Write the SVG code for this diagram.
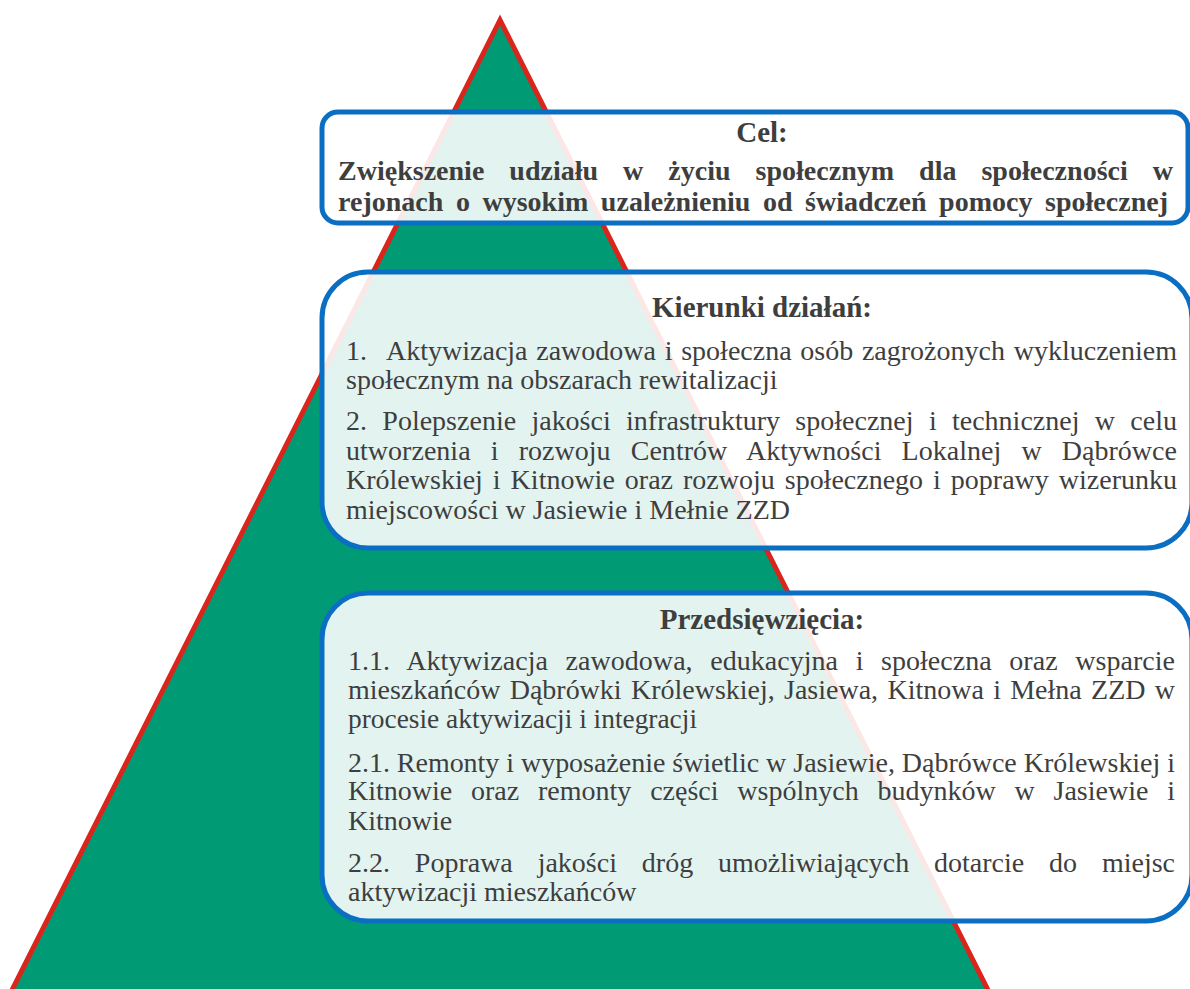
<svg xmlns="http://www.w3.org/2000/svg" width="1190" height="989" viewBox="0 0 1190 989">
<style>
.box{fill:#ffffff;fill-opacity:0.89;stroke:#0A6FC2;stroke-width:5}
.t{font-family:"Liberation Serif","DejaVu Serif",serif;font-size:28px;fill:#3E3E3E}
.h{font-family:"Liberation Serif","DejaVu Serif",serif;font-size:29px;font-weight:bold;fill:#3E3E3E}
.hs{font-family:"Liberation Serif","DejaVu Serif",serif;font-size:28px;font-weight:bold;fill:#3E3E3E}
</style>
<rect x="0" y="0" width="1190" height="989" fill="#ffffff"/>
<g id="pyramid">
<polygon points="500,20 7,1000 993,1000" fill="#009A75" stroke="#DA251D" stroke-width="5" stroke-linejoin="miter"/>
</g>
<g id="cel">
<rect class="box" x="322" y="112" width="866" height="111" rx="16" ry="16"/>
<text class="h" x="762" y="142" text-anchor="middle">Cel:</text>
<text class="hs" x="338" y="180" word-spacing="18" textLength="835" lengthAdjust="spacing">Zwiększenie udziału w życiu społecznym dla społeczności w</text>
<text class="hs" x="338" y="211" word-spacing="5.5" textLength="830" lengthAdjust="spacing">rejonach o wysokim uzależnieniu od świadczeń pomocy społecznej</text>
</g>
<g id="kierunki">
<rect class="box" x="322" y="272" width="870" height="276" rx="46" ry="46"/>
<text class="h" x="762" y="317" text-anchor="middle">Kierunki działań:</text>
<text class="t" x="346" y="360">1.</text>
<text class="t" x="386" y="360" word-spacing="1.7" textLength="791" lengthAdjust="spacing">Aktywizacja zawodowa i społeczna osób zagrożonych wykluczeniem</text>
<text class="t" x="346" y="389">społecznym na obszarach rewitalizacji</text>
<text class="t" x="346" y="430" word-spacing="8.3" textLength="831" lengthAdjust="spacing">2. Polepszenie jakości infrastruktury społecznej i technicznej w celu</text>
<text class="t" x="346" y="460" word-spacing="13.1" textLength="831" lengthAdjust="spacing">utworzenia i rozwoju Centrów Aktywności Lokalnej w Dąbrówce</text>
<text class="t" x="346" y="489" word-spacing="3" textLength="831" lengthAdjust="spacing">Królewskiej i Kitnowie oraz rozwoju społecznego i poprawy wizerunku</text>
<text class="t" x="346" y="519">miejscowości w Jasiewie i Mełnie ZZD</text>
</g>
<g id="przedsiewziecia">
<rect class="box" x="322" y="593" width="870" height="328" rx="46" ry="46"/>
<text class="h" x="762" y="629" text-anchor="middle">Przedsięwzięcia:</text>
<text class="t" x="348" y="670" word-spacing="10.6" textLength="827" lengthAdjust="spacing">1.1. Aktywizacja zawodowa, edukacyjna i społeczna oraz wsparcie</text>
<text class="t" x="348" y="699" word-spacing="2.3" textLength="827" lengthAdjust="spacing">mieszkańców Dąbrówki Królewskiej, Jasiewa, Kitnowa i Mełna ZZD w</text>
<text class="t" x="348" y="728" textLength="349" lengthAdjust="spacingAndGlyphs">procesie aktywizacji i integracji</text>
<text class="t" x="348" y="772" textLength="827" lengthAdjust="spacing">2.1. Remonty i wyposażenie świetlic w Jasiewie, Dąbrówce Królewskiej i</text>
<text class="t" x="348" y="800" word-spacing="11.8" textLength="827" lengthAdjust="spacing">Kitnowie oraz remonty części wspólnych budynków w Jasiewie i</text>
<text class="t" x="348" y="830">Kitnowie</text>
<text class="t" x="348" y="872" word-spacing="17.9" textLength="827" lengthAdjust="spacing">2.2. Poprawa jakości dróg umożliwiających dotarcie do miejsc</text>
<text class="t" x="348" y="901">aktywizacji mieszkańców</text>
</g>
</svg>
